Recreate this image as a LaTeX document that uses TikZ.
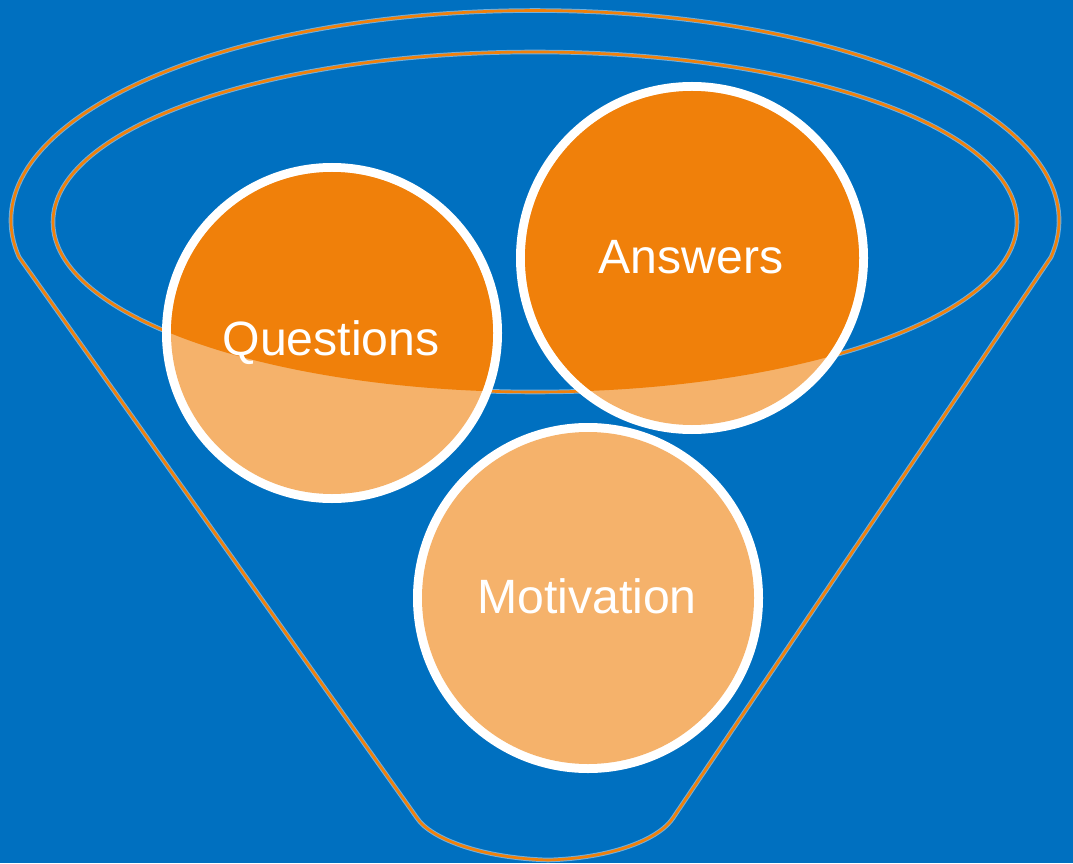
\documentclass[tikz,border=0pt]{standalone}
\usepackage{fontspec}
\setmainfont{Liberation Sans}
\definecolor{funnelblue}{HTML}{0070C0}
\definecolor{deeporange}{HTML}{F0800A}
\definecolor{paleorange}{HTML}{F5B26B}
\tikzset{
  rim/.style={draw=deeporange, line width=0.75pt, line join=round,
    preaction={draw=white, draw opacity=0.45, line width=1.3pt}},
  balltext/.style={text=white, font=\fontsize{13.7pt}{16pt}\selectfont, anchor=base, inner sep=0pt},
}
\begin{document}
\begin{tikzpicture}[x=0.01cm,y=0.01cm]
    \useasboundingbox (0,0) rectangle (1073,863);
    \fill[funnelblue] (0,0) rectangle (1073,863); % background

    \coordinate (RimCentre)  at (535,641);
    \coordinate (LipLeft)    at (19,606);
    \coordinate (FootLeft)   at (417,45);
    \coordinate (FootRight)  at (673,45);
    \coordinate (FootBottom) at (548,3);

    % outer rim and the two sides of the funnel
    \draw[rim] (LipLeft) arc[start angle=190, end angle=-10, x radius=524, y radius=210]
        -- (FootRight)
        .. controls (660,25) and (615,5) .. (FootBottom)
        .. controls (480,5) and (430,25) .. (FootLeft) -- cycle;
    % inner rim
    \draw[rim] (RimCentre) ellipse[x radius=482, y radius=170];

    % the three balls: white ring, pale part below the rim, deep part inside it
    \foreach \cx/\cy/\r/\ty/\name/\word in {332/530/170/508/questions/Questions,
                                              692/605/176/590/answers/Answers,
                                              588/265/175/250/motivation/Motivation}{
      \fill[white] (\cx,\cy) circle[radius=\r];
      \fill[paleorange] (\cx,\cy) circle[radius=\r-9];
      \begin{scope}
        \clip (RimCentre) ellipse[x radius=482, y radius=170];
        \fill[deeporange] (\cx,\cy) circle[radius=\r-9];
      \end{scope}
      \node[balltext] (\name) at (\cx-1,\ty) {\word};
    }
\end{tikzpicture}
\end{document}
